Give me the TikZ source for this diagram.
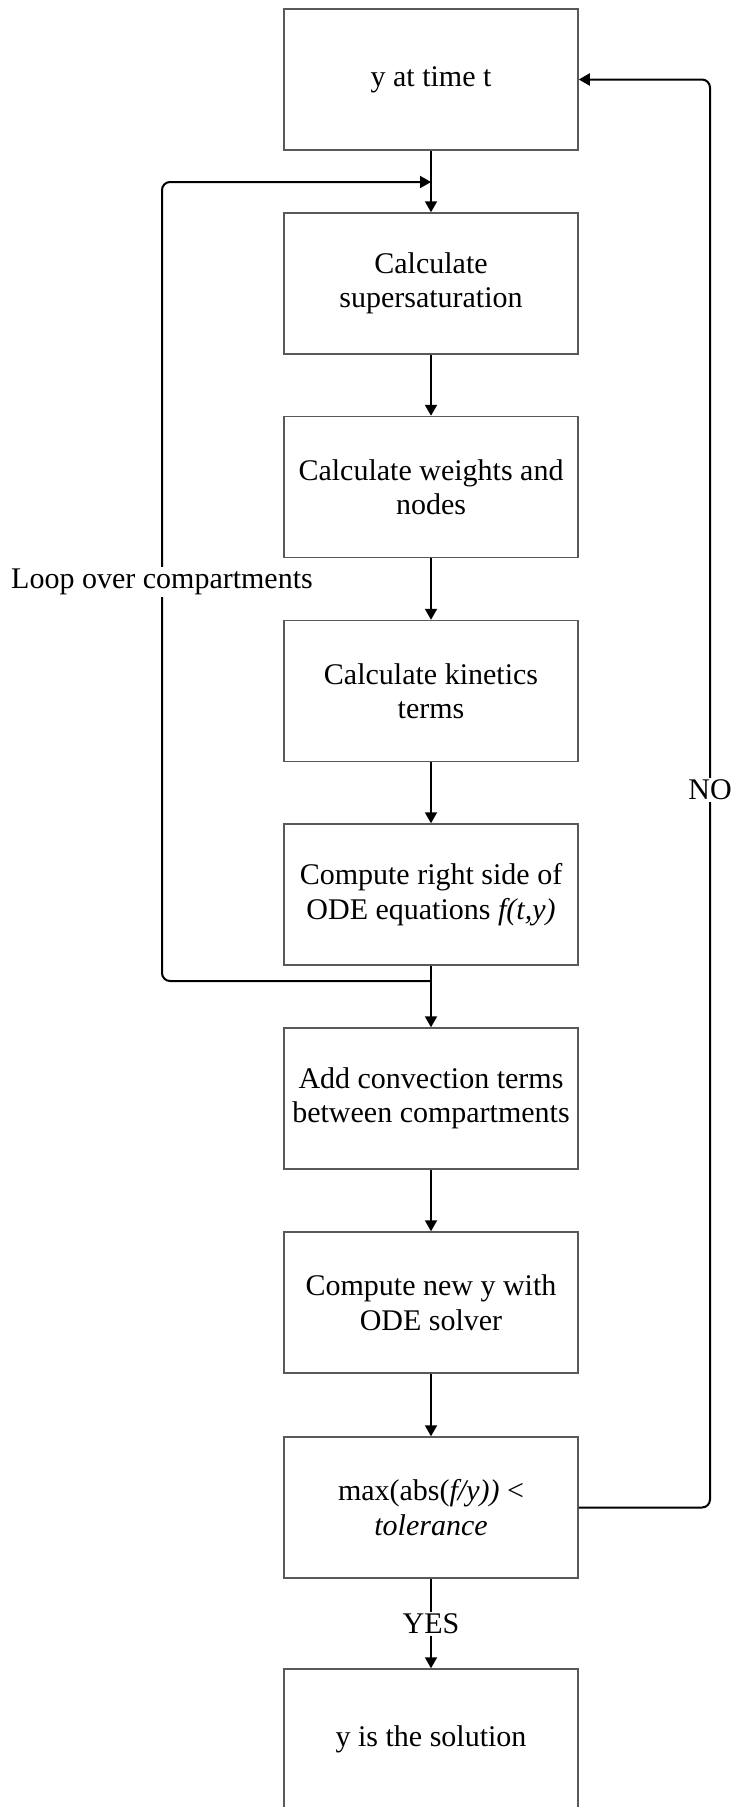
\documentclass[tikz,border=0pt]{standalone}
\usepackage{fontspec}
\setmainfont{Liberation Serif}
\usetikzlibrary{arrows.meta}
\begin{document}
\begin{tikzpicture}[x=1pt,y=-1pt,
  box/.style={draw=black!65, line width=1.5pt, rectangle, minimum width=294pt, minimum height=141pt, align=center, inner sep=0pt, font=\fontsize{30}{34.5}\selectfont},
  conn/.style={draw=black, line width=2pt, -{Triangle[width=12pt,length=11pt]}},
  plain/.style={draw=black, line width=2pt},
  lbl/.style={fill=white, inner sep=2pt, font=\fontsize{30}{34.5}\selectfont}]
\useasboundingbox (0,0) rectangle (737,1807);
\node[box] (b1) at (431,79.5) {y at time t};
\node[box] (b2) at (431,283.5) {Calculate\\supersaturation};
\node[box] (b3) at (431,487) {Calculate weights and\\nodes};
\node[box] (b4) at (431,691) {Calculate kinetics\\terms};
\node[box] (b5) at (431,894.5) {Compute right side of\\ODE equations \textit{f(t,y)}};
\node[box] (b6) at (431,1098.5) {Add convection terms\\between compartments};
\node[box] (b7) at (431,1302.5) {Compute new y with\\ODE solver};
\node[box] (b8) at (431,1507.5) {max(abs(\textit{f/y))} <\\\textit{tolerance}};
\node[box] (b9) at (431,1739.5) {y is the solution};
\coordinate (j1) at (431,981);
\coordinate (j2) at (431,182);
\coordinate (lc) at (162,582);
\coordinate (rc) at (710,790);
\draw[conn] (b1) -- (b2);
\draw[conn] (b2) -- (b3);
\draw[conn] (b3) -- (b4);
\draw[conn] (b4) -- (b5);
\draw[conn] (b5) -- (b6);
\draw[conn] (b6) -- (b7);
\draw[conn] (b7) -- (b8);
\draw[conn, rounded corners=8pt] (j1) -- (162,981) -- (162,182) -- (j2);
\draw[conn, rounded corners=8pt] (b8.east) -- (710,1507.5) -- (710,79.5) -- (b1.east);
\draw[conn] (b8) -- (b9);
\node[lbl] (loop) at (lc) {Loop over compartments};
\node[lbl] (no) at (rc) {NO};
\node[lbl] (yes) at (431,1624) {YES};
\end{tikzpicture}
\end{document}
